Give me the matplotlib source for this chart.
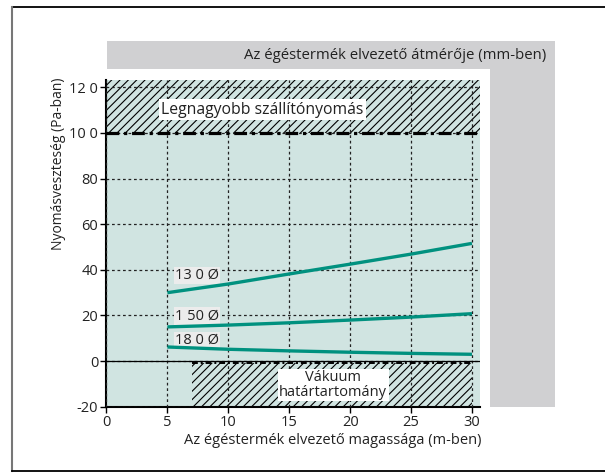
import matplotlib

matplotlib.use("Agg")

import matplotlib.pyplot as plt
from matplotlib.lines import Line2D
from matplotlib.patches import Rectangle

# flue length (m) and pressure loss (Pa) per flue diameter
heights = [5, 10, 15, 20, 25, 30]
loss_130 = [30, 33.8, 38.2, 42.5, 46.9, 51.6]
loss_150 = [15, 15.8, 16.8, 18.0, 19.3, 20.8]
loss_180 = [6.2, 5.2, 4.5, 3.9, 3.4, 3.0]

curve_labels = ["13 0 Ø", "1 50 Ø", "18 0 Ø"]
curve_label_y = [37.6, 19.8, 9.0]
right_labels = ["Ø -13 0", "Ø -15 0", "Ø -18 0"]
right_label_y = [50.4, 21.0, 3.0]

xticks = [0, 5, 10, 15, 20, 25, 30]
yticks = [-20, 0, 20, 40, 60, 80, 100, 120]
ytick_labels = ["-20", "0", "20", "40", "60", "80", "10 0", "12 0"]

max_pressure = 100
vacuum_limit = -1
vacuum_start = 7.0

GREEN = "#d0e4e1"
GREY = "#d0d0d2"
TEAL = "#00917f"
INK = "#222222"

plt.rcParams["font.family"] = ["Open Sans", "DejaVu Sans"]
plt.rcParams["hatch.linewidth"] = 0.8

fig = plt.figure(figsize=(6.05, 4.73), dpi=100)

# grey L-shaped header / right column
fig.patches.append(Rectangle((0.1769, 0.8541), 0.7405, 0.0592, transform=fig.transFigure,
                             facecolor=GREY, edgecolor="none", zorder=0))
fig.patches.append(Rectangle((0.8099, 0.1402), 0.1074, 0.714, transform=fig.transFigure,
                             facecolor=GREY, edgecolor="none", zorder=0))
# outer frame (top, left, bottom)
fig.lines.append(Line2D([0.0198, 1.0], [0.9852, 0.9852], transform=fig.transFigure,
                        color="black", lw=1.3))
fig.lines.append(Line2D([0.0198, 0.0198], [0.9852, 0.0032], transform=fig.transFigure,
                        color="#777777", lw=1.5))
fig.lines.append(Line2D([0.0198, 1.0], [0.0032, 0.0032], transform=fig.transFigure,
                        color="black", lw=1.3))

ax = fig.add_axes([0.176, 0.140, 0.6174, 0.6909])
ax.set_facecolor(GREEN)
ax.set_xlim(0, 30.66)
ax.set_ylim(-20, 123.2)

# hatched zones
ax.axhspan(max_pressure, 123.2, facecolor=GREEN, edgecolor="black", hatch="////",
           lw=0, zorder=1)
ax.fill_between([vacuum_start, 30], -20, vacuum_limit, facecolor=GREEN, edgecolor="black",
                hatch="////", lw=0, zorder=1)

ax.set_xticks(xticks)
ax.set_yticks(yticks)
ax.set_yticklabels(ytick_labels)
ax.grid(True, color=INK, linestyle=(0, (2.2, 2.2)), lw=0.9)
ax.set_axisbelow(False)
ax.tick_params(direction="out", length=4, width=1, labelsize=10.5, colors="black",
               labelcolor=INK, pad=2)
for side in ["top", "right"]:
    ax.spines[side].set_visible(False)
ax.spines["left"].set_linewidth(1.5)
ax.spines["bottom"].set_linewidth(1.5)

ax.axhline(0, color="black", lw=0.9, zorder=3)
ax.axhline(max_pressure, color="black", lw=2.3, dashes=(4, 1.5, 1, 1.5), zorder=3)
ax.plot([vacuum_start, 30], [vacuum_limit, vacuum_limit], color="black", lw=1.4,
        dashes=(3, 1.5, 1, 1.5), zorder=3)

for ys in [loss_130, loss_150, loss_180]:
    ax.plot(heights, ys, color=TEAL, lw=2.4, solid_capstyle="butt", zorder=4)

for lab, y in zip(curve_labels, curve_label_y):
    ax.text(7.45, y, lab, ha="center", va="center", fontsize=10.5, color=INK, zorder=3.5,
            bbox=dict(boxstyle="square,pad=0.08", facecolor="#ececec", edgecolor="none"))

for lab, y in zip(right_labels, right_label_y):
    ax.text(34.2, y, lab, ha="center", va="center", fontsize=10.5, color=INK,
            clip_on=False)

ax.text(4.5, 110.2, "Legnagyobb szállítónyomás", ha="left", va="center", fontsize=11.3,
        color=INK, zorder=5,
        bbox=dict(boxstyle="square,pad=0.15", facecolor="white", edgecolor="none"))
ax.text(18.6, -10.4, "Vákuum\nhatártartomány", ha="center", va="center", fontsize=10.5,
        color=INK, linespacing=0.95, zorder=5,
        bbox=dict(boxstyle="square,pad=0.1", facecolor="white", edgecolor="none"))

fig.text(0.9036, 0.8837, "Az égéstermék elvezető átmérője (mm-ben)", ha="right",
         va="center", fontsize=10.7, color=INK)
fig.text(0.0975, 0.653, "Nyomásveszteség (Pa-ban)", rotation=90, ha="center",
         va="center", fontsize=10, color=INK)
fig.text(0.5496, 0.0683, "Az égéstermék elvezető magassága (m-ben)", ha="center",
         va="center", fontsize=10.5, color=INK)

fig.savefig("out.png", dpi=100)
